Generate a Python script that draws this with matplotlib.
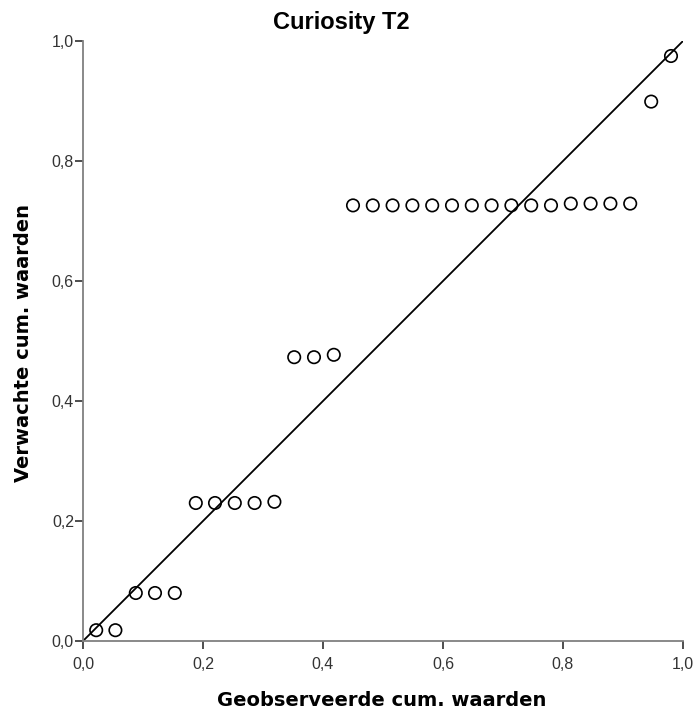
import matplotlib
matplotlib.use("Agg")
import matplotlib.pyplot as plt
from matplotlib.ticker import FuncFormatter

observed = [0.022, 0.054, 0.088, 0.120, 0.153, 0.188, 0.220, 0.253, 0.286, 0.319,
            0.352, 0.385, 0.418, 0.450, 0.483, 0.516, 0.549, 0.582, 0.615, 0.648,
            0.681, 0.714, 0.747, 0.780, 0.813, 0.846, 0.879, 0.912, 0.947, 0.980]
expected = [0.018, 0.018, 0.080, 0.080, 0.080, 0.230, 0.230, 0.230, 0.230, 0.232,
            0.473, 0.473, 0.477, 0.726, 0.726, 0.726, 0.726, 0.726, 0.726, 0.726,
            0.726, 0.726, 0.726, 0.726, 0.729, 0.729, 0.729, 0.729, 0.899, 0.975]
ticks = [0.0, 0.2, 0.4, 0.6, 0.8, 1.0]
ref_line = [0.0, 1.0]

W, H = 697, 715
fig = plt.figure(figsize=(W/100, H/100), dpi=100)
ax = fig.add_axes([83/W, 1-641/H, 600/W, 600/H])

ax.plot(ref_line, ref_line, color="black", lw=1.3, zorder=2)
ax.scatter(observed, expected, s=80, facecolors="none", edgecolors="black",
           linewidths=1.2, zorder=3, clip_on=False)

ax.set_xlim(0, 1)
ax.set_ylim(0, 1)
ax.set_xticks(ticks)
ax.set_yticks(ticks)
fmt = FuncFormatter(lambda v, p: f"{v:.1f}".replace(".", ","))
ax.xaxis.set_major_formatter(fmt)
ax.yaxis.set_major_formatter(fmt)

for s in ["top", "right"]:
    ax.spines[s].set_visible(False)
for s in ["left", "bottom"]:
    ax.spines[s].set_color("#808080")
    ax.spines[s].set_linewidth(1.3)
ax.tick_params(axis="both", direction="out", length=5.5, width=1.3, color="#404040",
               labelsize=11.5, labelcolor="#333333")
ax.tick_params(axis="y", pad=1)
ax.tick_params(axis="x", pad=6)
for lab in ax.get_xticklabels() + ax.get_yticklabels():
    lab.set_fontfamily("Liberation Sans")

fig.text(382/W, 1-700/H, "Geobserveerde cum. waarden", ha="center", va="center",
         fontsize=14, fontweight="bold", family="DejaVu Sans")
fig.text(24/W, 1-343/H, "Verwachte cum. waarden", ha="center", va="center",
         rotation=90, fontsize=14, fontweight="bold", family="DejaVu Sans")
fig.text(341/W, 1-23/H, "Curiosity T2", ha="center", va="center",
         fontsize=17, fontweight="bold", family="Liberation Sans")

fig.savefig("out.png", dpi=100)
